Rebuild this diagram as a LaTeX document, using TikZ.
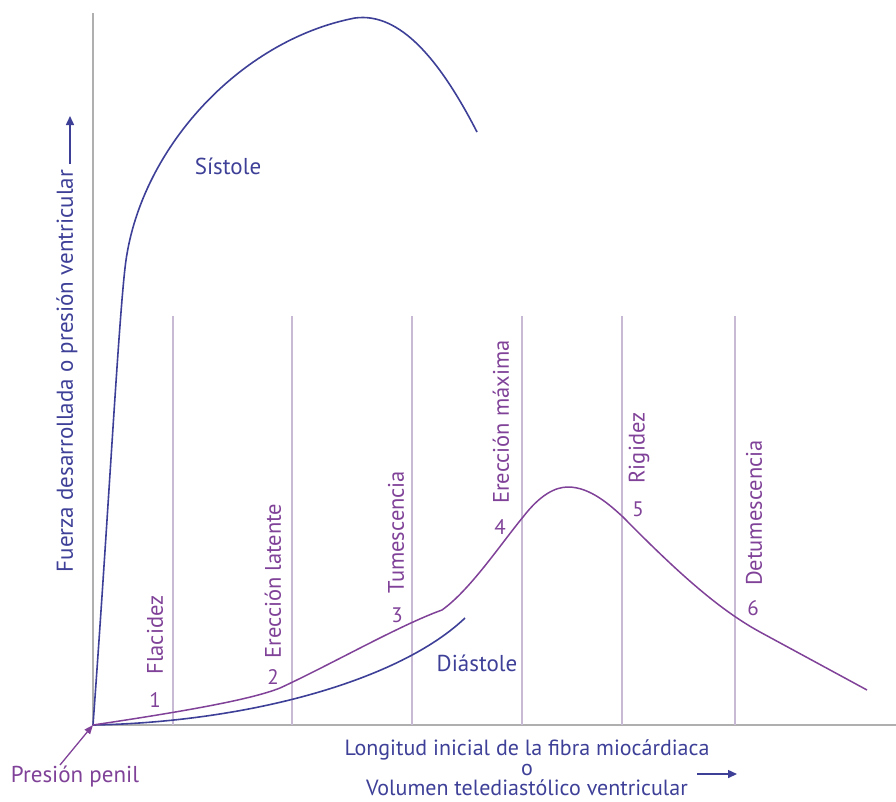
\documentclass[tikz,border=0pt]{standalone}
\usepackage{fontspec}
\setmainfont{PT Sans}
\usetikzlibrary{arrows.meta}
\definecolor{cblue}{RGB}{62,64,152}
\definecolor{cpurple}{RGB}{128,66,152}
\definecolor{caxis}{RGB}{175,175,175}
\definecolor{cgrid}{RGB}{200,186,212}
\tikzset{
  axisline/.style={draw=caxis, line width=1.3pt},
  gridline/.style={draw=cgrid, line width=1.2pt},
  bluecurve/.style={draw=cblue, line width=1.6pt},
  purplecurve/.style={draw=cpurple, line width=1.5pt},
  phase/.style={text=cpurple, rotate=90, font=\fontsize{22.5}{26}\selectfont, inner sep=0pt},
  num/.style={text=cpurple, font=\fontsize{21}{24}\selectfont, inner sep=0pt},
  bluetext/.style={text=cblue, font=\fontsize{23}{27}\selectfont, inner sep=0pt},
  purpletext/.style={text=cpurple, font=\fontsize{23}{27}\selectfont, inner sep=0pt},
}
\begin{document}
\begin{tikzpicture}[x=1pt,y=-1pt]
\useasboundingbox (0,0) rectangle (896,801);
% axes
\coordinate (O) at (93,725);
\coordinate (ytop) at (93,13);
\coordinate (xend) at (896,725);
\draw[axisline] (ytop) -- (O) -- (xend);
% grid lines
\foreach \gx/\gn in {173/g1,292/g2,412/g3,522/g4,622/g5,735/g6}{
  \coordinate (\gn t) at (\gx,316);
  \coordinate (\gn b) at (\gx,725);
  \draw[gridline] (\gn t) -- (\gn b);
}
% systole
\draw[bluecurve] (O) .. controls (108,520) and (118,330) .. (125,268)
  .. controls (138,150) and (240,40) .. (355,18)
  .. controls (400,12) and (440,60) .. (477,132);
% diastole
\draw[bluecurve] (O) .. controls (250,722) and (400,680) .. (465,618);
% penile pressure
\draw[purplecurve] (O) .. controls (180,712) and (250,700) .. (280,688)
  .. controls (330,665) and (400,625) .. (442,610)
  .. controls (470,590) and (500,545) .. (523,517)
  .. controls (540,495) and (555,487) .. (568,487)
  .. controls (590,487) and (610,505) .. (623,517)
  .. controls (680,575) and (720,610) .. (760,632)
  -- (867,690);
% curve labels
\node[bluetext] (sis) at (228,166) {Sístole};
\node[bluetext] (dia) at (477,663) {Diástole};
% phase labels
\node[phase] (p1) at (155,635) {Flacidez};
\node[phase] (p2) at (273,581) {Erección latente};
\node[phase] (p3) at (396,532) {Tumescencia};
\node[phase] (p4) at (501,422) {Erección máxima};
\node[phase] (p5) at (639,448) {Rigidez};
\node[phase] (p6) at (754,513) {Detumescencia};
\node[num] (n1) at (155,700) {1};
\node[num] (n2) at (273,677) {2};
\node[num] (n3) at (397,615) {3};
\node[num] (n4) at (500,527) {4};
\node[num] (n5) at (638,509) {5};
\node[num] (n6) at (753,608) {6};
% y axis label
\node[bluetext, rotate=90] (ylab) at (67,371) {Fuerza desarrollada o presión ventricular};
\coordinate (ya1) at (70,164);
\coordinate (ya2) at (70,116);
\draw[draw=cblue, line width=1.5pt, -{Triangle[length=9pt,width=8pt]}] (ya1) -- (ya2);
% x axis label
\node[bluetext, align=center, anchor=north, font=\fontsize{22}{20}\selectfont] (xl) at (527,739)
  {Longitud inicial de la fibra miocárdiaca\\o\\Volumen telediastólico ventricular};
\coordinate (xa1) at (697,774);
\coordinate (xa2) at (737,774);
\draw[draw=cblue, line width=1.5pt, -{Triangle[length=9pt,width=8pt]}] (xa1) -- (xa2);
% presion penil
\node[purpletext] (pp) at (75,777) {Presión penil};
\coordinate (ppa) at (60,765);
\draw[draw=cpurple, line width=1.3pt, -{Triangle[length=9pt,width=7pt]}] (ppa) -- (O);
\end{tikzpicture}
\end{document}
